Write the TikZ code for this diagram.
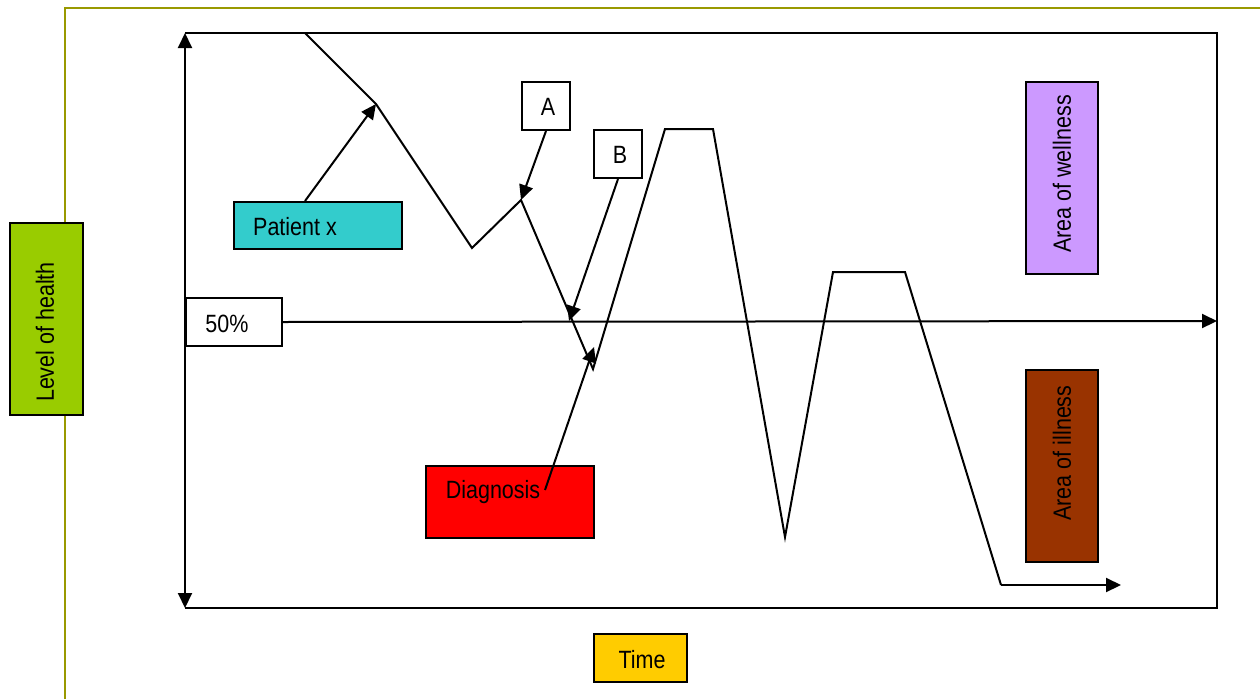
\documentclass[tikz,border=0pt]{standalone}
\usepackage{fontspec}
\newfontfamily\lbl[FakeStretch=0.86]{Liberation Sans}
\usetikzlibrary{arrows.meta}
\definecolor{oliveline}{RGB}{153,153,0}
\definecolor{healthgreen}{RGB}{153,204,0}
\definecolor{patientcyan}{RGB}{51,204,204}
\definecolor{wellviolet}{RGB}{204,153,255}
\definecolor{illbrown}{RGB}{153,51,0}
\definecolor{timeyellow}{RGB}{255,204,0}
\tikzset{
  box/.style={draw=black, line width=2pt, inner sep=0pt, anchor=north west},
  txt/.style={font=\lbl\fontsize{25}{30}\selectfont, inner sep=0pt, text=black},
  curve/.style={line width=2pt, line join=miter},
  tip/.style={Triangle[length=15pt,width=14pt]},
  arr/.style={line width=2pt, -{Triangle[length=15pt,width=14pt]}},
  arrboth/.style={line width=2pt, {Triangle[length=15pt,width=14pt]}-{Triangle[length=15pt,width=14pt]}},
}
\begin{document}
\begin{tikzpicture}[x=1pt, y=-1pt]
\useasboundingbox (0,0) rectangle (1260,699);

% olive page frame
\draw[oliveline, line width=2pt] (65,699) -- (65,8) -- (1260,8);

% axis label boxes
\node[box, fill=healthgreen, minimum width=73pt, minimum height=192pt] (lvl) at (9,222) {};
\node[txt, rotate=90] (lvltxt) at (45,332) {Level of health};

\node[box, fill=timeyellow, minimum width=93pt, minimum height=48pt] (time) at (593,633) {};
\node[txt] (timetxt) at (642,660) {Time};

% chart frame
\coordinate (axtop) at (185,33);
\coordinate (axbot) at (185,608);
\coordinate (tr) at (1217,33);
\coordinate (br) at (1217,608);
\draw[line width=2pt] (axtop) -- (tr) -- (br) -- (axbot);
\draw[arrboth] (axtop) -- (axbot);

% 50% line
\node[box, fill=white, minimum width=96pt, minimum height=48pt] (half) at (185,297) {};
\node[txt] (halftxt) at (227,324) {50\%};
\coordinate (halfend) at (1217,321);
\draw[arr] (half.east) -- (halfend);

% health curve
\coordinate (c1) at (305,33);
\coordinate (c2) at (376,104);
\coordinate (c3) at (472,248);
\coordinate (c4) at (521,200);
\coordinate (c5) at (593,369);
\coordinate (c6) at (665,129);
\coordinate (c7) at (713,129);
\coordinate (c8) at (785,537);
\coordinate (c9) at (833,272);
\coordinate (c10) at (905,272);
\coordinate (c11) at (1001,585);
\coordinate (c12) at (1121,585);
\draw[curve] (c1) -- (c2) -- (c3) -- (c4) -- (c5) -- (c6) -- (c7) -- (c8) -- (c9) -- (c10) -- (c11);
\draw[arr] (c11) -- (c12);

% region boxes
\node[box, fill=wellviolet, minimum width=72pt, minimum height=192pt] (well) at (1025,81) {};
\node[txt, rotate=90] (welltxt) at (1062,174) {Area of wellness};
\node[box, fill=illbrown, minimum width=72pt, minimum height=192pt] (ill) at (1025,369) {};
\node[txt, rotate=90] (illtxt) at (1062,453) {Area of illness};

% callout boxes
\node[box, fill=patientcyan, minimum width=168pt, minimum height=47pt] (pat) at (233,201) {};
\node[txt] (pattxt) at (295,227) {Patient x};
\coordinate (patfoot) at (305,201);
\draw[arr] (patfoot) -- (c2);

\node[box, fill=white, minimum width=48pt, minimum height=48pt] (A) at (521,81) {};
\node[txt] (Atxt) at (548,107) {A};
\draw[arr] (A.south) -- (c4);

\node[box, fill=white, minimum width=48pt, minimum height=48pt] (B) at (593,129) {};
\node[txt] (Btxt) at (620,155) {B};
\coordinate (btip) at (569,321);
\draw[arr] (B.south) -- (btip);

\node[box, fill=red, minimum width=168pt, minimum height=72pt] (diag) at (425,465) {};
\node[txt] (diagtxt) at (493,492) {Diagnosis};
\coordinate (diagfoot) at (545,490);
\coordinate (diagtip) at (594,347);
\draw[arr] (diagfoot) -- (diagtip);
\end{tikzpicture}
\end{document}
